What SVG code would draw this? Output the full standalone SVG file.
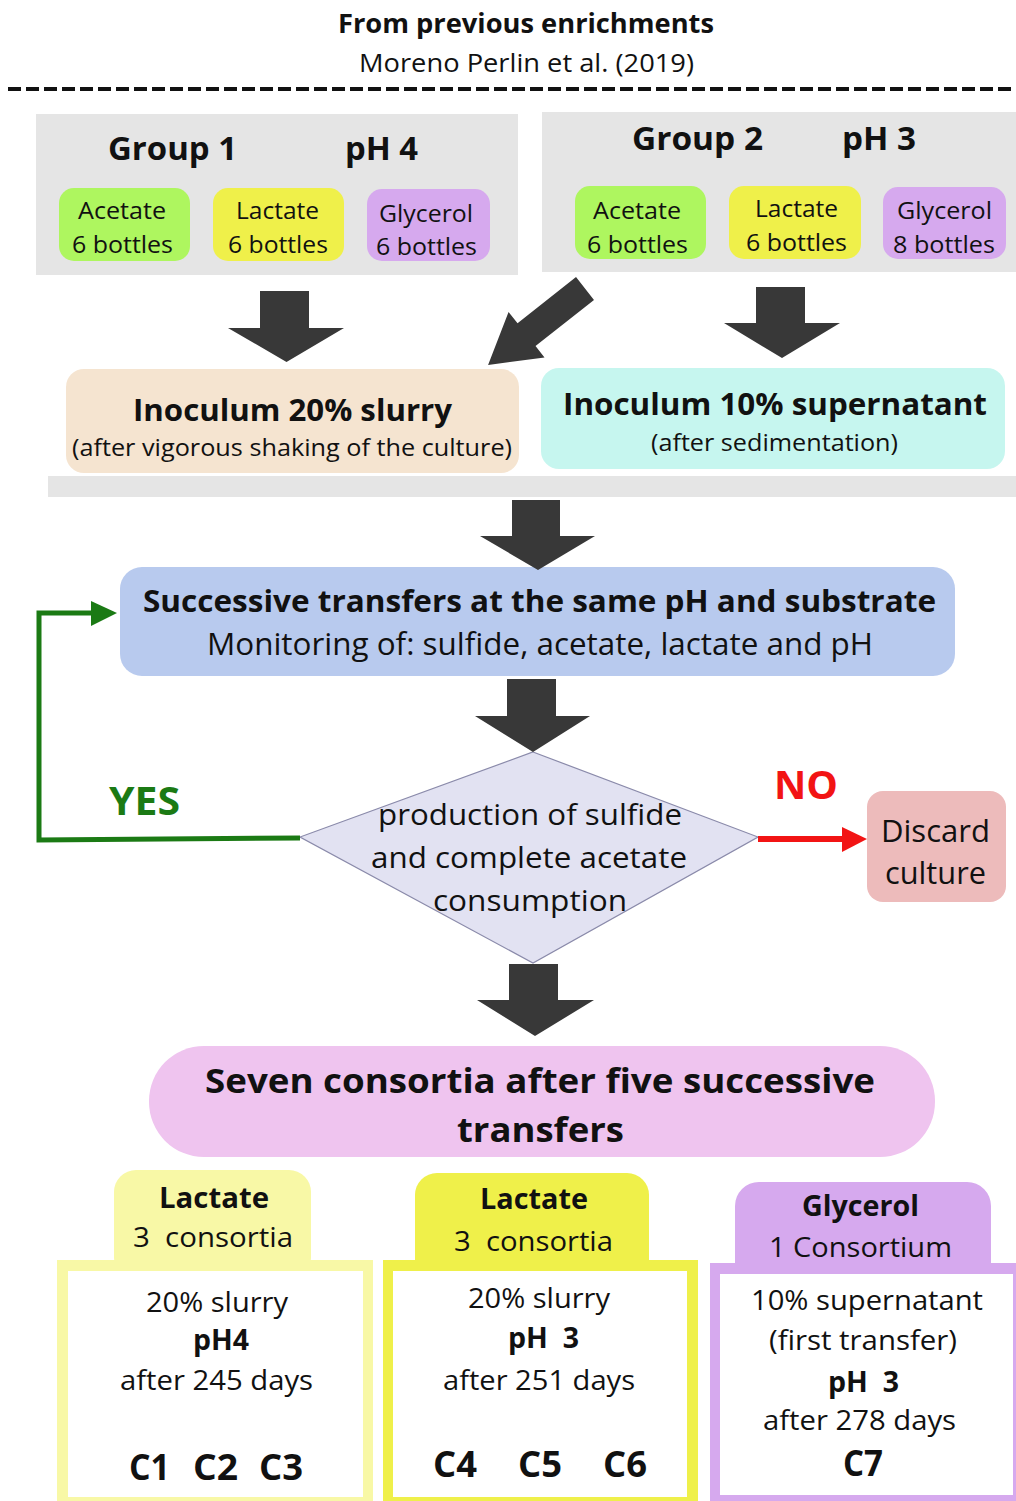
<svg xmlns="http://www.w3.org/2000/svg" width="1016" height="1501" viewBox="0 0 1016 1501">
<defs>
<style>
text{font-family:"Open Sans","Noto Sans","DejaVu Sans",sans-serif;fill:#111;}
.b{font-weight:bold;}
.c{text-anchor:middle;}
.blk{fill:#383838;}
.grp{fill:#e5e5e5;}
.ac{fill:#aef65f;}
.la{fill:#eff04a;}
.gl{fill:#d6a9ee;}
.lp{fill:#f8f8a6;}
</style>
</defs>
<rect width="1016" height="1501" fill="#ffffff"/>

<g id="header">
<text class="b c" x="526" y="33" font-size="26.5" textLength="376" lengthAdjust="spacingAndGlyphs">From previous enrichments</text>
<text class="c" x="526.5" y="72" font-size="26" textLength="335" lengthAdjust="spacingAndGlyphs">Moreno Perlin et al. (2019)</text>
<line x1="8" y1="89" x2="1016" y2="89" stroke="#111" stroke-width="4" stroke-dasharray="13,5"/>
</g>

<g id="group1">
<rect class="grp" x="36" y="114" width="482" height="161"/>
<text class="b" x="108" y="160" font-size="32.5" textLength="129" lengthAdjust="spacingAndGlyphs">Group 1</text>
<text class="b" x="345" y="160" font-size="32.5" textLength="73" lengthAdjust="spacingAndGlyphs">pH 4</text>
<rect class="ac" x="59" y="188" width="131" height="73" rx="15"/>
<text class="c" x="122" y="219" font-size="24.5" textLength="88" lengthAdjust="spacingAndGlyphs">Acetate</text>
<text class="c" x="122.5" y="253" font-size="24.5" textLength="101" lengthAdjust="spacingAndGlyphs">6 bottles</text>
<rect class="la" x="213" y="188" width="131" height="73" rx="15"/>
<text class="c" x="277.5" y="219" font-size="24.5" textLength="83" lengthAdjust="spacingAndGlyphs">Lactate</text>
<text class="c" x="278" y="253" font-size="24.5" textLength="100" lengthAdjust="spacingAndGlyphs">6 bottles</text>
<rect class="gl" x="367" y="189" width="123" height="72" rx="15"/>
<text class="c" x="426" y="222" font-size="24.5" textLength="94" lengthAdjust="spacingAndGlyphs">Glycerol</text>
<text class="c" x="426.5" y="255" font-size="24.5" textLength="101" lengthAdjust="spacingAndGlyphs">6 bottles</text>
</g>

<g id="group2">
<rect class="grp" x="542" y="112" width="474" height="160"/>
<text class="b" x="632" y="150" font-size="32.5" textLength="131" lengthAdjust="spacingAndGlyphs">Group 2</text>
<text class="b" x="842" y="150" font-size="32.5" textLength="74" lengthAdjust="spacingAndGlyphs">pH 3</text>
<rect class="ac" x="575" y="186" width="131" height="73" rx="15"/>
<text class="c" x="637" y="219" font-size="24.5" textLength="88" lengthAdjust="spacingAndGlyphs">Acetate</text>
<text class="c" x="637.5" y="253" font-size="24.5" textLength="101" lengthAdjust="spacingAndGlyphs">6 bottles</text>
<rect class="la" x="729" y="186" width="132" height="73" rx="15"/>
<text class="c" x="796.5" y="217" font-size="24.5" textLength="83" lengthAdjust="spacingAndGlyphs">Lactate</text>
<text class="c" x="796.5" y="251" font-size="24.5" textLength="101" lengthAdjust="spacingAndGlyphs">6 bottles</text>
<rect class="gl" x="883" y="187" width="123" height="72" rx="15"/>
<text class="c" x="944.5" y="219" font-size="24.5" textLength="95" lengthAdjust="spacingAndGlyphs">Glycerol</text>
<text class="c" x="944" y="253" font-size="24.5" textLength="102" lengthAdjust="spacingAndGlyphs">8 bottles</text>
</g>

<g id="inoculum20">
<rect x="66" y="369" width="453" height="104" rx="18" fill="#f5e4d0"/>
<text class="b c" x="292.5" y="421" font-size="31" textLength="319" lengthAdjust="spacingAndGlyphs">Inoculum 20% slurry</text>
<text class="c" x="292" y="456" font-size="24" textLength="440" lengthAdjust="spacingAndGlyphs">(after vigorous shaking of the culture)</text>
</g>

<g id="inoculum10">
<rect x="541" y="368" width="464" height="101" rx="18" fill="#c6f6ef"/>
<text class="b c" x="775" y="415" font-size="31" textLength="424" lengthAdjust="spacingAndGlyphs">Inoculum 10% supernatant</text>
<text class="c" x="774.5" y="451" font-size="24" textLength="247" lengthAdjust="spacingAndGlyphs">(after sedimentation)</text>
</g>

<g id="bar">
<rect x="48" y="476" width="968" height="21" fill="#e5e5e5"/>
</g>

<g id="transfers">
<rect x="120" y="567" width="835" height="109" rx="22" fill="#b8caee"/>
<text class="b c" x="539.5" y="612" font-size="30.5" textLength="793" lengthAdjust="spacingAndGlyphs">Successive transfers at the same pH and substrate</text>
<text class="c" x="540" y="655" font-size="30.5" textLength="666" lengthAdjust="spacingAndGlyphs">Monitoring of: sulfide, acetate, lactate and pH</text>
</g>

<g id="decision">
<polygon points="533,752 758,837 533,963 300,837" fill="#e2e2f2" stroke="#8a8aaa" stroke-width="1.2"/>
<text class="c" x="530" y="825" font-size="30" textLength="304" lengthAdjust="spacingAndGlyphs">production of sulfide</text>
<text class="c" x="529" y="868" font-size="30" textLength="316" lengthAdjust="spacingAndGlyphs">and complete acetate</text>
<text class="c" x="530" y="911" font-size="30" textLength="194" lengthAdjust="spacingAndGlyphs">consumption</text>
</g>

<g id="discard">
<rect x="867" y="791" width="139" height="111" rx="16" fill="#edbbbb"/>
<text class="c" x="935.5" y="842" font-size="30.5" textLength="109" lengthAdjust="spacingAndGlyphs">Discard</text>
<text class="c" x="935.5" y="884" font-size="30.5" textLength="101" lengthAdjust="spacingAndGlyphs">culture</text>
</g>

<g id="consortia">
<rect x="149" y="1046" width="786" height="111" rx="55" fill="#efc4ef"/>
<text class="b c" x="540" y="1093" font-size="34" textLength="670" lengthAdjust="spacingAndGlyphs">Seven consortia after five successive</text>
<text class="b c" x="540.5" y="1142" font-size="34" textLength="167" lengthAdjust="spacingAndGlyphs">transfers</text>
</g>

<g id="lactate-ph4">
<rect class="lp" x="114" y="1170" width="197" height="110" rx="22"/>
<rect class="lp" x="57" y="1260" width="316" height="241"/>
<rect x="68" y="1271" width="295" height="226" fill="#ffffff"/>
<text class="b c" x="214" y="1208" font-size="28" textLength="110" lengthAdjust="spacingAndGlyphs">Lactate</text>
<text class="c" x="213" y="1247" font-size="28" xml:space="preserve" textLength="160" lengthAdjust="spacingAndGlyphs">3  consortia</text>
<text class="c" x="217" y="1312" font-size="28" textLength="142" lengthAdjust="spacingAndGlyphs">20% slurry</text>
<text class="b c" x="221" y="1350" font-size="28" textLength="56" lengthAdjust="spacingAndGlyphs">pH4</text>
<text class="c" x="216.5" y="1390" font-size="28" textLength="193" lengthAdjust="spacingAndGlyphs">after 245 days</text>
<text class="b c" x="149.5" y="1480" font-size="36" textLength="41" lengthAdjust="spacingAndGlyphs">C1</text>
<text class="b c" x="215.5" y="1480" font-size="36" textLength="45" lengthAdjust="spacingAndGlyphs">C2</text>
<text class="b c" x="281" y="1480" font-size="36" textLength="44" lengthAdjust="spacingAndGlyphs">C3</text>
</g>

<g id="lactate-ph3">
<rect class="la" x="415" y="1173" width="234" height="110" rx="22"/>
<rect class="la" x="383" y="1260" width="315" height="241"/>
<rect x="393" y="1271" width="294" height="226" fill="#ffffff"/>
<text class="b c" x="534" y="1209" font-size="28" textLength="108" lengthAdjust="spacingAndGlyphs">Lactate</text>
<text class="c" x="533.5" y="1251" font-size="28" xml:space="preserve" textLength="159" lengthAdjust="spacingAndGlyphs">3  consortia</text>
<text class="c" x="539" y="1308" font-size="28" textLength="142" lengthAdjust="spacingAndGlyphs">20% slurry</text>
<text class="b c" x="543.5" y="1348" font-size="28" xml:space="preserve" textLength="71" lengthAdjust="spacingAndGlyphs">pH  3</text>
<text class="c" x="539" y="1390" font-size="28" textLength="192" lengthAdjust="spacingAndGlyphs">after 251 days</text>
<text class="b c" x="455" y="1477" font-size="36" textLength="44" lengthAdjust="spacingAndGlyphs">C4</text>
<text class="b c" x="540" y="1477" font-size="36" textLength="44" lengthAdjust="spacingAndGlyphs">C5</text>
<text class="b c" x="625" y="1477" font-size="36" textLength="44" lengthAdjust="spacingAndGlyphs">C6</text>
</g>

<g id="glycerol-ph3">
<rect class="gl" x="735" y="1182" width="256" height="110" rx="24"/>
<rect class="gl" x="710" y="1263" width="306" height="238"/>
<rect x="720" y="1274" width="293" height="221" fill="#ffffff"/>
<text class="b c" x="860.5" y="1216" font-size="28" textLength="117" lengthAdjust="spacingAndGlyphs">Glycerol</text>
<text class="c" x="860.5" y="1257" font-size="28" textLength="183" lengthAdjust="spacingAndGlyphs">1 Consortium</text>
<text class="c" x="867" y="1310" font-size="28" textLength="232" lengthAdjust="spacingAndGlyphs">10% supernatant</text>
<text class="c" x="863" y="1350" font-size="28" textLength="188" lengthAdjust="spacingAndGlyphs">(first transfer)</text>
<text class="b c" x="863.5" y="1392" font-size="28" xml:space="preserve" textLength="71" lengthAdjust="spacingAndGlyphs">pH  3</text>
<text class="c" x="859.5" y="1430" font-size="28" textLength="193" lengthAdjust="spacingAndGlyphs">after 278 days</text>
<text class="b c" x="863" y="1476" font-size="36" textLength="40" lengthAdjust="spacingAndGlyphs">C7</text>
</g>

<g id="connectors">
<polygon class="blk" points="260,291 309,291 309,328 344,328 286.5,362 228,328 260,328"/>
<polygon class="blk" transform="translate(585,288.5) rotate(141.7)" points="0,-14.5 74.5,-14.5 74.5,-29 123.5,0 74.5,29 74.5,14.5 0,14.5"/>
<polygon class="blk" points="756,287 805,287 805,323 840,323 782,358 724,323 756,323"/>
<polygon class="blk" points="512,500 560,500 560,536 595,536 538,570 480,536 512,536"/>
<polygon class="blk" points="507,679 556,679 556,716 590,716 533,752 475,716 507,716"/>
<polygon class="blk" points="509,964 558,964 558,1000 594,1000 535,1036 477,1000 509,1000"/>
<polyline points="300,838 39,840 39,613 95,613" fill="none" stroke="#1b7a14" stroke-width="5"/>
<polygon points="91,601 117,613 91,626" fill="#1b7a14"/>
<line x1="758" y1="839" x2="845" y2="839" stroke="#f21414" stroke-width="6"/>
<polygon points="842,827 867,839 842,852" fill="#f21414"/>
<text class="b" x="109" y="815" font-size="40" textLength="71" lengthAdjust="spacingAndGlyphs" style="fill:#1b7a14">YES</text>
<text class="b" x="774" y="799" font-size="40" textLength="64" lengthAdjust="spacingAndGlyphs" style="fill:#f21414">NO</text>
</g>
</svg>
